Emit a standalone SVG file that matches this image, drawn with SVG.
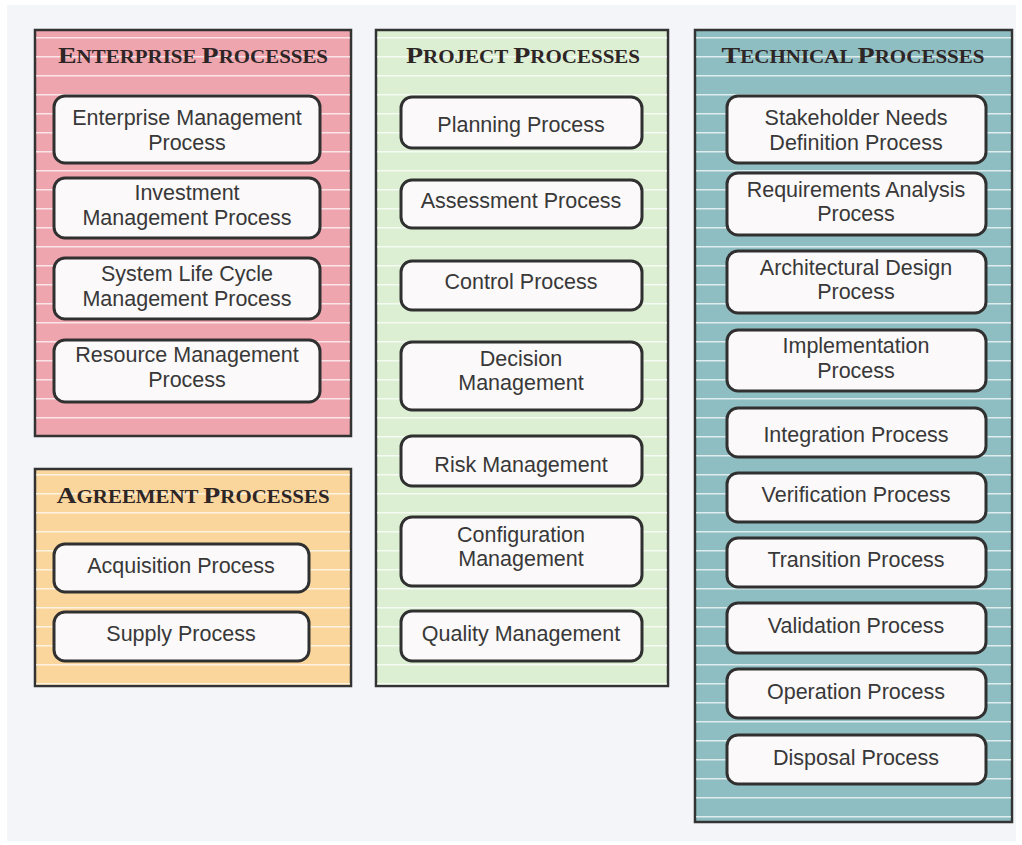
<svg xmlns="http://www.w3.org/2000/svg" width="1022" height="845" viewBox="0 0 1022 845">
<defs>
<pattern id="stripes" patternUnits="userSpaceOnUse" x="0" y="30" width="20" height="19">
<rect x="0" y="7" width="20" height="1.5" fill="#ffffff" fill-opacity="0.7"/>
</pattern>
<style>
.panel{stroke:#333333;stroke-width:2.5}
.hdr{font-family:"Liberation Serif",serif;font-weight:bold;font-size:18px;fill:#2e2626;text-anchor:middle}
.cap{font-size:24px}
.box{fill:#fbf9f9;stroke:#303030;stroke-width:3}
.lbl{font-family:"Liberation Sans",Arial,sans-serif;font-size:21.5px;fill:#383838;text-anchor:middle}
</style>
</defs>
<rect width="1022" height="845" fill="#ffffff"/>
<rect x="7" y="5" width="1009" height="836" fill="#f3f5f8"/>

<g id="enterprise-panel">
<rect class="panel" x="35" y="30" width="316" height="406" fill="#eea5ae"/>
<rect x="36" y="31" width="314" height="404" fill="url(#stripes)"/>
<text class="hdr" x="193" y="63" textLength="270" lengthAdjust="spacingAndGlyphs"><tspan class="cap">E</tspan>NTERPRISE <tspan class="cap">P</tspan>ROCESSES</text>
</g>
<g id="agreement-panel">
<rect class="panel" x="35" y="469" width="316" height="217" fill="#fbd69c"/>
<rect x="36" y="470" width="314" height="215" fill="url(#stripes)"/>
<text class="hdr" x="193" y="503" textLength="273" lengthAdjust="spacingAndGlyphs"><tspan class="cap">A</tspan>GREEMENT <tspan class="cap">P</tspan>ROCESSES</text>
</g>
<g id="project-panel">
<rect class="panel" x="376" y="30" width="292" height="656" fill="#dcefd2"/>
<rect x="377" y="31" width="290" height="654" fill="url(#stripes)"/>
<text class="hdr" x="523" y="63" textLength="234" lengthAdjust="spacingAndGlyphs"><tspan class="cap">P</tspan>ROJECT <tspan class="cap">P</tspan>ROCESSES</text>
</g>
<g id="technical-panel">
<rect class="panel" x="695" y="30" width="317" height="792" fill="#8fbec2"/>
<rect x="696" y="31" width="315" height="790" fill="url(#stripes)"/>
<text class="hdr" x="853" y="63" textLength="263" lengthAdjust="spacingAndGlyphs"><tspan class="cap">T</tspan>ECHNICAL <tspan class="cap">P</tspan>ROCESSES</text>
</g>

<g id="enterprise-management">
<rect class="box" x="54" y="96" width="266" height="67" rx="11"/>
<text class="lbl" x="187" y="125">Enterprise Management</text>
<text class="lbl" x="187" y="150">Process</text>
</g>
<g id="investment-management">
<rect class="box" x="54" y="178" width="266" height="60" rx="11"/>
<text class="lbl" x="187" y="200">Investment</text>
<text class="lbl" x="187" y="225">Management Process</text>
</g>
<g id="system-life-cycle">
<rect class="box" x="54" y="258" width="266" height="61" rx="11"/>
<text class="lbl" x="187" y="281">System Life Cycle</text>
<text class="lbl" x="187" y="306">Management Process</text>
</g>
<g id="resource-management">
<rect class="box" x="54" y="340" width="266" height="62" rx="11"/>
<text class="lbl" x="187" y="362">Resource Management</text>
<text class="lbl" x="187" y="387">Process</text>
</g>

<g id="acquisition">
<rect class="box" x="54" y="544" width="255" height="48" rx="11"/>
<text class="lbl" x="181" y="573">Acquisition Process</text>
</g>
<g id="supply">
<rect class="box" x="54" y="612" width="255" height="49" rx="11"/>
<text class="lbl" x="181" y="641">Supply Process</text>
</g>

<g id="planning">
<rect class="box" x="401" y="97" width="241" height="51" rx="11"/>
<text class="lbl" x="521" y="132">Planning Process</text>
</g>
<g id="assessment">
<rect class="box" x="401" y="180" width="241" height="48" rx="11"/>
<text class="lbl" x="521" y="208">Assessment Process</text>
</g>
<g id="control">
<rect class="box" x="401" y="261" width="241" height="49" rx="11"/>
<text class="lbl" x="521" y="289">Control Process</text>
</g>
<g id="decision-management">
<rect class="box" x="401" y="342" width="241" height="68" rx="11"/>
<text class="lbl" x="521" y="366">Decision</text>
<text class="lbl" x="521" y="390">Management</text>
</g>
<g id="risk-management">
<rect class="box" x="401" y="436" width="241" height="50" rx="11"/>
<text class="lbl" x="521" y="472">Risk Management</text>
</g>
<g id="configuration-management">
<rect class="box" x="401" y="517" width="241" height="69" rx="11"/>
<text class="lbl" x="521" y="542">Configuration</text>
<text class="lbl" x="521" y="566">Management</text>
</g>
<g id="quality-management">
<rect class="box" x="401" y="611" width="241" height="50" rx="11"/>
<text class="lbl" x="521" y="641">Quality Management</text>
</g>

<g id="stakeholder-needs">
<rect class="box" x="727" y="96" width="259" height="67" rx="11"/>
<text class="lbl" x="856" y="125">Stakeholder Needs</text>
<text class="lbl" x="856" y="150">Definition Process</text>
</g>
<g id="requirements-analysis">
<rect class="box" x="727" y="173" width="259" height="62" rx="11"/>
<text class="lbl" x="856" y="197">Requirements Analysis</text>
<text class="lbl" x="856" y="221">Process</text>
</g>
<g id="architectural-design">
<rect class="box" x="727" y="251" width="259" height="62" rx="11"/>
<text class="lbl" x="856" y="275">Architectural Design</text>
<text class="lbl" x="856" y="299">Process</text>
</g>
<g id="implementation">
<rect class="box" x="727" y="330" width="259" height="61" rx="11"/>
<text class="lbl" x="856" y="353">Implementation</text>
<text class="lbl" x="856" y="378">Process</text>
</g>
<g id="integration">
<rect class="box" x="727" y="408" width="259" height="49" rx="11"/>
<text class="lbl" x="856" y="442">Integration Process</text>
</g>
<g id="verification">
<rect class="box" x="727" y="473" width="259" height="49" rx="11"/>
<text class="lbl" x="856" y="502">Verification Process</text>
</g>
<g id="transition">
<rect class="box" x="727" y="538" width="259" height="49" rx="11"/>
<text class="lbl" x="856" y="567">Transition Process</text>
</g>
<g id="validation">
<rect class="box" x="727" y="603" width="259" height="50" rx="11"/>
<text class="lbl" x="856" y="633">Validation Process</text>
</g>
<g id="operation">
<rect class="box" x="727" y="669" width="259" height="49" rx="11"/>
<text class="lbl" x="856" y="699">Operation Process</text>
</g>
<g id="disposal">
<rect class="box" x="727" y="735" width="259" height="49" rx="11"/>
<text class="lbl" x="856" y="765">Disposal Process</text>
</g>

<g id="connectors"></g>
</svg>
